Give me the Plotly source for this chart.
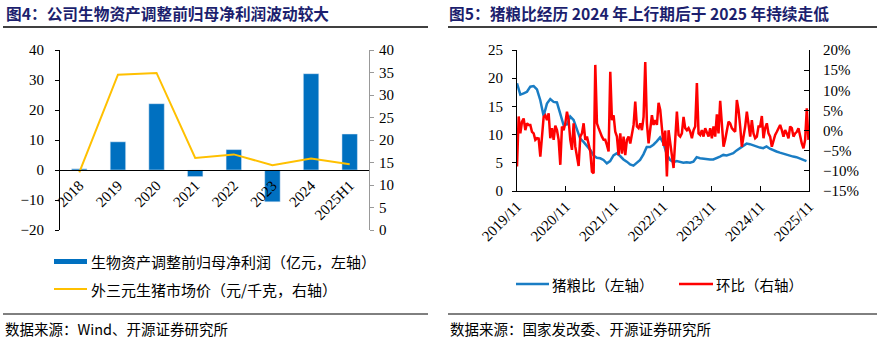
import pandas as pd
import plotly.graph_objects as go

W, H = 878, 341

# ---------------- data: left panel ----------------
years = ["2018", "2019", "2020", "2021", "2022", "2023", "2024", "2025H1"]
profit = [0.4, 9.4, 22.1, -2.2, 6.8, -10.6, 32.1, 12.0]          # 亿元, left axis
hog_price = [12.8, 34.5, 34.9, 16.0, 16.8, 14.4, 15.9, 14.6]     # 元/千克, right axis

# ---------------- data: right panel ----------------
ratio_values = [
    19.1, 17.1, 17.3, 17.6, 18.5, 18.6, 18.0, 16.1, 13.3, 15.5,
    16.3, 15.8, 15.7, 13.5, 11.7, 11.8, 13.2, 12.6, 10.8, 9.3,
    8.7, 8.0, 7.3, 6.3, 5.9, 5.8, 5.5, 4.9, 5.3, 6.3,
    6.7, 6.2, 5.6, 5.2, 4.7, 4.5, 5.0, 5.5, 6.5, 7.8,
    7.8, 8.2, 8.8, 9.5, 8.5, 6.5, 5.5, 5.1, 5.3, 5.1,
    5.0, 5.1, 5.0, 5.2, 6.0, 5.8, 5.7, 5.6, 5.6, 5.6,
    5.8, 6.1, 6.4, 6.3, 6.5, 6.7, 7.2, 7.6, 8.0, 8.4,
    8.3, 8.1, 7.8, 7.7, 7.6, 7.9, 7.5, 7.2, 7.0, 6.8,
    6.6, 6.4, 6.3, 6.1, 6.0, 5.8, 5.6, 5.3,
]
ratio_dates = pd.date_range("2019-11-01", "2025-10-13", periods=len(ratio_values))

mom_values = [
    -8.9, 3.5, -0.7, 2.2, 3.0, 0.1, 1.8, 1.4, 1.4, -0.3,
    -0.7, -2.3, -1.9, -2.0, -6.5, -2.3, 3.4, 3.8, 2.6, 4.3,
    -1.9, 0.6, -2.3, 1.2, 0.1, -2.3, -8.5, 1.0, 0.1, 1.8,
    4.7, 2.6, -2.3, -4.8, 1.8, -4.0, -6.1, -8.8, -1.5, -0.7,
    1.8, -2.3, -1.5, -3.6, -5.2, -10.2, -10.6, 16.3, 1.8, 0.6,
    -0.7, -1.5, -2.3, -2.3, -3.6, -5.2, 14.6, 2.6, 3.8, -0.3,
    -1.5, -6.1, -0.7, -5.7, -1.5, -6.1, -2.3, -1.5, -3.2, -0.3,
    1.4, 7.2, 1.0, 0.6, 1.8, 0.1, 3.4, 17.0, 1.8, -3.2,
    0.1, 3.8, 1.4, 2.6, 1.4, 6.9, 5.1, -0.5, -3.8, 0.0,
    -11.4, 0.1, -3.2, -5.0, -9.3, -2.3, 4.7, -1.1, -1.5, -0.7,
    3.4, 0.6, 0.1, 0.6, -0.3, -1.9, 0.1, 1.0, 11.8, -0.7,
    -1.1, 0.1, -1.5, 0.6, -0.7, -1.5, 0.6, -1.9, 1.0, -1.5,
    4.0, -0.7, 7.4, 0.6, -4.0, -2.3, 0.6, 2.2, 1.8, 0.6,
    0.1, -0.3, 7.6, 5.1, 1.0, -4.0, -1.5, 1.0, 4.7, 1.0,
    -1.5, 2.6, -0.7, -1.9, -1.5, 1.0, 1.0, 3.6, -1.9, 0.6,
    1.8, -0.7, -1.5, -4.0, -2.3, -1.1, -0.3, 0.6, 1.4, 0.1,
    -1.5, 0.1, -0.7, -1.9, 1.0, 0.6, -1.5, -0.7, -0.3, 0.6,
    -1.5, -3.2, -4.4, -2.3, 5.5, -2.3,
]
mom_dates = pd.date_range("2019-11-01", "2025-10-28", periods=len(mom_values))

# ---------------- text ----------------
title_left = "图4：公司生物资产调整前归母净利润波动较大"
title_right = "图5：猪粮比经历 2024 年上行期后于 2025 年持续走低"
legend_left = ["生物资产调整前归母净利润（亿元，左轴）", "外三元生猪市场价（元/千克，右轴）"]
legend_right = ["猪粮比（左轴）", "环比（右轴）"]
source_left = "数据来源：Wind、开源证券研究所"
source_right = "数据来源：国家发改委、开源证券研究所"

# ---------------- colours / fonts ----------------
BAR_BLUE = "#0070C0"
GOLD = "#FFC000"
LINE_BLUE = "#1A7DC4"
RED = "#FF0000"
TITLE_COLOR = "#1c1f6e"
CJK = "Noto Sans CJK SC"
SERIF = "Liberation Serif, Times New Roman, serif"


def px(x):
    return x / W


def py(y):
    return 1 - y / H


fig = go.Figure()
fig.add_trace(go.Bar(x=years, y=profit, marker_color=BAR_BLUE, xaxis="x", yaxis="y",
                     showlegend=False))
fig.add_trace(go.Scatter(x=years, y=hog_price, mode="lines", line=dict(color=GOLD, width=2),
                         xaxis="x", yaxis="y2", showlegend=False))
fig.add_trace(go.Scatter(x=ratio_dates, y=ratio_values, mode="lines",
                         line=dict(color=LINE_BLUE, width=2.5), xaxis="x2", yaxis="y3",
                         showlegend=False))
fig.add_trace(go.Scatter(x=mom_dates, y=mom_values, mode="lines",
                         line=dict(color=RED, width=2.5), xaxis="x2", yaxis="y4",
                         showlegend=False))

tickfont = dict(family=SERIF, size=15, color="#000")
xtickfont = dict(family=SERIF, size=15, color="#000")

# left panel geometry
L_x0, L_x1, L_y0, L_y1 = 60, 369, 50, 230
# right panel geometry
R_x0, R_x1, R_y0, R_y1 = 517, 809, 50, 191

zero_frac = (0 - (-20)) / 60.0
zero_pos = py(L_y1) + zero_frac * (py(L_y0) - py(L_y1))

fig.update_layout(
    width=W, height=H,
    margin=dict(l=0, r=0, t=0, b=0, autoexpand=False),
    paper_bgcolor="white", plot_bgcolor="rgba(0,0,0,0)",
    bargap=0.6,
    showlegend=False,
    xaxis=dict(domain=[px(L_x0), px(L_x1)], anchor="free", position=zero_pos,
               type="category", showline=True, linecolor="#000", linewidth=1,
               ticks="", tickangle=-45, tickfont=xtickfont, showgrid=False,
               zeroline=False, fixedrange=True, automargin=False),
    yaxis=dict(domain=[py(L_y1), py(L_y0)], anchor="x", range=[-20, 40], dtick=10,
               showline=True, linecolor="#000", linewidth=1, ticks="outside",
               ticklen=4, tickcolor="#000", tickfont=tickfont, showgrid=False,
               zeroline=False, ticklabelstandoff=8, automargin=False),
    yaxis2=dict(overlaying="y", side="right", anchor="x", range=[0, 40], dtick=5,
                showline=True, linecolor="#999", linewidth=1, ticks="outside",
                ticklen=4, tickcolor="#999", tickfont=tickfont, showgrid=False,
                zeroline=False, ticklabelstandoff=2, automargin=False),
    xaxis2=dict(domain=[px(R_x0), px(R_x1)], anchor="y3", type="date",
                range=["2019-11-01", "2025-11-01"],
                tickvals=["2019-11-01", "2020-11-01", "2021-11-01", "2022-11-01",
                          "2023-11-01", "2024-11-01", "2025-11-01"],
                tickformat="%Y/%m", tickangle=-45, tickfont=xtickfont,
                showline=True, linecolor="#000", linewidth=1, ticks="inside",
                ticklen=5, tickcolor="#000", showgrid=False, zeroline=False,
                automargin=False),
    yaxis3=dict(domain=[py(R_y1), py(R_y0)], anchor="x2", range=[0, 25], dtick=5,
                showline=True, linecolor="#000", linewidth=1, ticks="outside",
                ticklen=4, tickcolor="#000", tickfont=tickfont, showgrid=False,
                zeroline=False, ticklabelstandoff=6, automargin=False),
    yaxis4=dict(overlaying="y3", side="right", anchor="x2", range=[-15, 20], dtick=5,
                ticksuffix="%", showline=True, linecolor="#000", linewidth=1,
                ticks="inside", ticklen=5, tickcolor="#000", tickfont=tickfont,
                showgrid=False, zeroline=False, ticklabelstandoff=10, automargin=False),
)

shapes = []
annotations = []

# titles and rules
annotations.append(dict(text=f"<b>{title_left}</b>", x=px(4), y=py(14), xref="paper",
                        yref="paper", xanchor="left", yanchor="middle", showarrow=False,
                        font=dict(family=CJK, size=15.7, color=TITLE_COLOR)))
annotations.append(dict(text=f"<b>{title_right}</b>", x=px(447), y=py(14), xref="paper",
                        yref="paper", xanchor="left", yanchor="middle", showarrow=False,
                        font=dict(family=CJK, size=15.7, color=TITLE_COLOR)))
for (a, b) in [(3, 428), (448, 877)]:
    shapes.append(dict(type="line", xref="paper", yref="paper", x0=px(a), x1=px(b),
                       y0=py(27), y1=py(27), line=dict(color="#000", width=1.5)))
    shapes.append(dict(type="line", xref="paper", yref="paper", x0=px(a), x1=px(b),
                       y0=py(314), y1=py(314), line=dict(color="#000", width=1)))

# sources
annotations.append(dict(text=source_left, x=px(3), y=py(328), xref="paper", yref="paper",
                        xanchor="left", yanchor="middle", showarrow=False,
                        font=dict(family=CJK, size=14.5, color="#000")))
annotations.append(dict(text=source_right, x=px(448), y=py(328), xref="paper",
                        yref="paper", xanchor="left", yanchor="middle", showarrow=False,
                        font=dict(family=CJK, size=14.5, color="#000")))

# left legend
shapes.append(dict(type="rect", xref="paper", yref="paper", x0=px(54), x1=px(87),
                   y0=py(264), y1=py(259), fillcolor=BAR_BLUE, line=dict(width=0)))
shapes.append(dict(type="line", xref="paper", yref="paper", x0=px(54), x1=px(87),
                   y0=py(289), y1=py(289), line=dict(color=GOLD, width=2)))
annotations.append(dict(text=legend_left[0], x=px(89), y=py(261), xref="paper",
                        yref="paper", xanchor="left", yanchor="middle", showarrow=False,
                        font=dict(family=CJK, size=15, color="#000")))
annotations.append(dict(text=legend_left[1], x=px(89), y=py(289), xref="paper",
                        yref="paper", xanchor="left", yanchor="middle", showarrow=False,
                        font=dict(family=CJK, size=15, color="#000")))

# right legend
shapes.append(dict(type="line", xref="paper", yref="paper", x0=px(516), x1=px(549),
                   y0=py(284), y1=py(284), line=dict(color=LINE_BLUE, width=2.5)))
shapes.append(dict(type="line", xref="paper", yref="paper", x0=px(679), x1=px(713),
                   y0=py(284), y1=py(284), line=dict(color=RED, width=2.5)))
annotations.append(dict(text=legend_right[0], x=px(550), y=py(284), xref="paper",
                        yref="paper", xanchor="left", yanchor="middle", showarrow=False,
                        font=dict(family=CJK, size=14.5, color="#000")))
annotations.append(dict(text=legend_right[1], x=px(714), y=py(284), xref="paper",
                        yref="paper", xanchor="left", yanchor="middle", showarrow=False,
                        font=dict(family=CJK, size=14.5, color="#000")))

fig.update_layout(shapes=shapes, annotations=annotations)
fig.write_html("out.html")
